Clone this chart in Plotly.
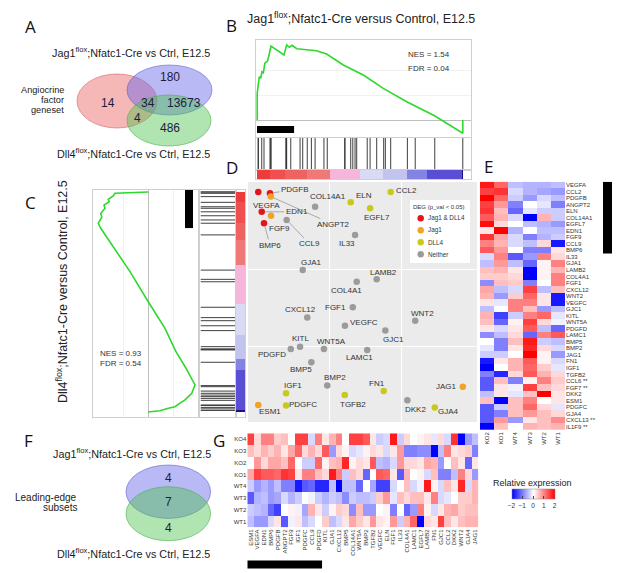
import plotly.graph_objects as go

W, H = 617, 573
FONT = "Liberation Sans, Arial, sans-serif"
LETTER_FONT = "Open Sans, Liberation Sans, sans-serif"

# ------------------------------------------------------------------ data
venn_a_labels = ["14", "180", "34", "13673", "4", "486"]
venn_f_labels = ["4", "7", "4"]

# genes of panel D / G (ordered by Jag1 rank)
genes = ["ESM1", "VEGFA", "EDN1", "BMP6", "PDGFB", "ANGPT2", "FGF9", "IGF1", "PDGFC", "CCL9",
         "PDGFD", "KITL", "GJA1", "CXCL12", "BMP5", "COL14A1", "WNT5A", "BMP2", "TGFB2", "VEGFC",
         "ELN", "FGF1", "IL33", "COL4A1", "LAMC1", "EGFL7", "LAMB2", "FN1", "GJC1", "CCL2",
         "DKK2", "WNT2", "GJA4", "JAG1"]
jag1_rank = [0.6, 0.6, 2.3, 3.4, 6.3, 6.7, 6.8, 14.1, 14.1, 14.4,
             16.4, 20.9, 22.2, 24.4, 26.4, 28.2, 32.5, 34.1, 42.6, 42.7,
             45.5, 46.5, 47.6, 48.4, 53.5, 54.9, 58.1, 61.5, 62.3, 64.9,
             73.0, 76.8, 86.3, 99.9]
dll4_rank = [96.8, 0.0, 9.0, 14.2, 0.6, 2.1, 10.8, 91.5, 97.1, 12.7,
             71.4, 70.3, 35.5, 57.1, 77.4, 6.7, 71.4, 88.0, 92.3, 60.8,
             4.7, 52.4, 19.5, 40.8, 71.8, 7.4, 39.7, 90.5, 63.0, 0.0,
             94.7, 58.5, 98.0, 88.5]
deg_class = ["Jag1", "Jag1 & DLL4", "Jag1 & DLL4", "Jag1 & DLL4", "Jag1 & DLL4", "Jag1", "Jag1", "DLL4", "DLL4", "Neither",
             "Neither", "Neither", "Neither", "Neither", "Neither", "Neither", "Neither", "Neither", "DLL4", "Neither",
             "DLL4", "Neither", "Neither", "Neither", "Neither", "DLL4", "Neither", "DLL4", "Neither", "DLL4",
             "Neither", "Neither", "DLL4", "Jag1"]
dll4_extra_rank = [93.0, 93.8, 98.6, 99.3]   # CCL6, FGF7, CXCL13, IL1F9

# running enrichment score, panel B (Jag1)
es_jag1_rank = [0.1, 0.1, 1.1, 1.8, 2.4, 3.1, 3.8, 4.7, 5.2, 6.8, 13.1, 14.4, 15.7, 17.0, 19.3,
                21.7, 28.9, 33.8, 41.9, 51.6, 61.3, 72.7, 85.6, 86.4, 99.9, 99.9]
es_jag1_score = [0.0, 0.214, 0.346, 0.334, 0.386, 0.378, 0.454, 0.466, 0.474, 0.592, 0.520, 0.600, 0.582, 0.598, 0.570,
                 0.566, 0.554, 0.528, 0.440, 0.360, 0.253, 0.146, 0.040, 0.032, -0.106, 0.0]
# running enrichment score, panel C (Dll4)
es_dll4_rank = [0.0, 0.1, 0.6, 1.8, 3.3, 4.4, 5.9, 7.4, 9.7, 11.5, 14.2, 16.5, 24.9, 36.2, 49.9,
                62.0, 71.0, 72.6, 80.1, 87.7, 91.5, 93.3, 94.5, 96.0, 97.6, 98.3, 99.4, 100.0]
es_dll4_score = [0.0, 0.064, 0.264, 0.278, 0.318, 0.310, 0.352, 0.344, 0.378, 0.370, 0.398, 0.378, 0.278, 0.144, -0.002,
                 -0.136, -0.210, -0.224, -0.304, -0.376, -0.350, -0.322, -0.296, -0.256, -0.216, -0.162, -0.096, 0.0]
le_jag1 = 18.0
le_dll4 = 16.4
nes_jag1, fdr_jag1 = "1.54", "0.04"
nes_dll4, fdr_dll4 = "0.93", "0.54"

band_colors = ["#ee3c3c", "#f04f4f", "#ef6262", "#f17878", "#f6b6da", "#dadaf5", "#c3c3ef", "#8383e6", "#5a4ed4", "#1e1280"]
band_edges_jag1 = [0, 6.3, 13.6, 24.3, 35.4, 50, 61, 72.8, 82.5, 99.3, 100]
band_edges_dll4 = [0, 4.5, 14, 22, 33, 51, 65, 76, 81, 99.3, 100]

# panel E heatmap (Dll4 order)
e_genes = ["VEGFA", "CCL2", "PDGFB", "ANGPT2", "ELN", "COL14A1", "EGFL7", "EDN1", "FGF9", "CCL9", "BMP6",
           "IL33", "GJA1", "LAMB2", "COL4A1", "FGF1", "CXCL12", "WNT2", "VEGFC", "GJC1", "KITL", "WNT5A",
           "PDGFD", "LAMC1", "BMP5", "BMP2", "JAG1", "FN1", "IGF1", "TGFB2", "CCL6 **", "FGF7 **", "DKK2",
           "ESM1", "PDGFC", "GJA4", "CXCL13 **", "IL1F9 **"]
e_samples = ["KO2", "KO1", "WT4", "WT3", "WT2", "WT1"]
e_values = [
    [1.8, 1.2, -0.5, -0.6, -0.6, -0.5], [1.5, 1.6, -0.3, -0.6, -0.7, -0.8], [2.0, 1.2, -0.4, -0.8, -0.3, -0.5],
    [1.5, 0.8, -1.0, 0.0, -0.2, -1.0], [1.6, 0.5, -1.2, -0.2, -0.4, -0.4], [1.3, 0.6, -0.3, -2.0, 0.6, -0.4],
    [1.9, 0.3, 0.0, -0.5, -0.6, -0.8], [0.2, 2.0, -0.6, 0.0, -0.5, -0.5], [1.6, 0.7, -0.3, -1.0, -0.6, -0.4],
    [1.0, 0.6, -0.3, -0.5, 0.3, -1.8], [1.3, 0.8, 0.0, -1.0, -1.0, 0.2], [-0.3, 1.0, -1.3, -0.8, 1.0, 0.3],
    [-0.5, 0.8, -0.5, -1.2, 0.1, 1.0], [0.5, 0.6, 0.2, -2.0, 0.1, 0.6], [0.4, 0.4, 0.3, -2.0, 0.1, 1.0],
    [-0.9, 0.5, 0.4, -1.0, 0.0, 1.0], [0.7, -0.5, -0.3, 1.5, -0.5, 0.5], [0.6, -0.8, 0.4, 1.2, 0.2, -1.8],
    [0.2, -0.2, 1.0, 1.0, 0.2, -1.8], [-0.5, 0.0, 1.0, 0.5, -0.8, -0.5], [0.6, -1.5, -0.4, 1.0, 1.2, -0.2],
    [0.5, -1.2, 0.1, 1.5, 0.3, -0.1], [0.2, -0.3, 0.2, 1.3, -0.5, -1.2], [-0.9, -0.5, 0.3, -1.2, 1.0, 1.3],
    [0.0, -1.0, 0.5, 1.8, -0.4, -0.5], [-0.2, -1.0, 0.2, 1.7, 0.3, -0.3], [-0.4, -0.4, 0.0, 2.0, 0.1, -0.8],
    [-1.8, 0.2, 0.6, 1.3, 0.1, -0.3], [-2.0, 0.0, 0.6, 1.2, 0.4, -0.2], [-1.0, -1.7, 0.3, 1.3, 0.6, 0.3],
    [-1.3, 0.5, -1.0, 0.1, 1.0, 0.4], [-1.3, 0.2, -0.1, 1.5, 0.5, 0.3], [-0.5, 0.2, -0.2, 0.5, 2.0, 0.2],
    [0.5, -2.0, 0.5, 1.0, 0.0, 0.2], [-1.3, -0.4, 0.5, 1.2, 0.3, -0.2], [-1.3, -1.0, 0.5, 0.8, 0.5, 0.3],
    [-1.3, 0.8, -0.8, 0.2, 0.5, 0.9], [-2.0, 0.5, 0.0, 0.6, 0.5, 0.6]]

# panel G heatmap (Jag1 order)
g_samples = ["KO4", "KO3", "KO2", "KO1", "WT4", "WT3", "WT2", "WT1"]
g_values = [
    [1.5, 0.3, 1.0, 1.0, 0.4, 0.5, 0.0, 1.5, 1.5, -0.3, 1.0, 0.2, 0.6, 1.0, 0.0, 1.5, 1.5, 1.3, 0.2, -0.4,
     -0.3, 1.8, -0.4, 0.3, 0.0, 0.1, 0.2, -0.2, 0.3, -0.3, 1.6, -2.0, -0.8, -0.5],
    [0.5, 0.3, 0.6, 0.4, 0.6, 0.2, 0.7, 1.2, 0.3, 0.6, 0.3, 1.3, -0.8, 0.3, 0.1, -0.3, -0.2, 0.1, 0.3, 0.2,
     -0.3, 0.2, 0.8, -1.0, -1.0, -0.9, -0.9, -2.0, -0.5, 1.0, 0.2, 0.3, 0.4, -1.0],
    [0.0, 0.8, 0.3, 0.7, 0.7, 0.5, 1.2, 0.0, -0.4, -0.4, 1.2, 0.1, 0.5, 0.6, 1.7, 0.1, 0.3, 0.2, 1.3, -0.5,
     -0.6, -0.3, 0.8, 0.3, 0.3, 0.2, 0.7, 0.6, -0.8, 0.0, 0.5, 0.2, -1.2, 0.2],
    [0.7, 1.5, 1.3, 1.3, 1.2, 1.6, 1.5, 0.2, 1.0, 1.0, 0.5, 0.3, 1.8, 1.0, -0.4, 0.5, 0.3, -1.2, 0.0, 1.3,
     1.2, 0.2, -1.3, 0.6, 0.0, 0.1, -0.3, 0.5, -1.0, -1.0, -0.5, 1.0, 0.3, -0.8],
    [-0.4, -0.8, -0.6, -0.8, -0.5, -1.0, -1.0, -1.8, -1.3, -1.2, -1.7, -1.7, -0.5, -2.0, -0.5, -0.5, -1.2, 0.0, -0.7, -1.5,
     -1.5, -0.3, 0.0, 0.5, -0.3, -0.1, 1.8, 0.1, -0.3, 0.5, 0.2, 1.7, -0.3, 0.6],
    [-1.3, -0.6, -0.5, -0.8, -0.7, -0.3, -0.6, -0.4, 0.0, -0.1, -0.4, -0.6, -0.4, -0.5, -0.9, -0.4, -0.5, -0.5, -0.4, 0.4,
     0.8, -0.2, 0.5, 0.3, 0.5, 0.5, 0.2, 1.0, -0.3, -0.2, 0.0, 0.4, 0.4, 0.6],
    [-0.4, -0.5, -0.6, -1.2, -1.5, 0.0, 0.1, -0.1, -0.7, 0.6, 0.2, -0.4, 0.1, 0.4, 0.3, -0.9, 0.5, -0.8, -0.8, 0.0,
     0.1, -1.0, 0.0, -1.2, -0.8, 1.0, 0.1, -0.3, 0.2, 0.6, 0.7, 0.4, 0.5, 0.5],
    [-0.5, -0.8, -0.8, -0.3, 0.2, -1.3, -0.1, 0.2, -0.5, -0.3, 0.0, 0.4, -0.5, -0.3, 0.2, 0.7, 0.4, 0.2, 0.8, 0.2,
     0.1, 0.8, -0.4, 0.6, 1.2, -2.0, 0.3, 0.2, 1.5, 0.5, 0.2, 0.5, 0.6, 0.6]]

deg_order = ["Jag1 & DLL4", "Jag1", "DLL4", "Neither"]
deg_colors = {"Jag1 & DLL4": "#e3141b", "Jag1": "#f2a227", "DLL4": "#c8c81e", "Neither": "#9b9b9b"}

# label offsets in pixels (dx, dy, connector)
label_offsets = {
    "VEGFA": (8, 13, False), "PDGFB": (25, -4, True), "ANGPT2": (63, 28, True), "EDN1": (35, 0, True),
    "FGF9": (8, 13, False), "BMP6": (6, 22, True), "CCL9": (23, 24, True), "COL14A1": (13, -10, False),
    "ELN": (13, -7, False), "EGFL7": (7, 9, False), "CCL2": (16, -2, False), "IL33": (-8, 9, False),
    "GJA1": (9, -8, False), "LAMB2": (7, -7, False), "COL4A1": (-10, 9, False), "FGF1": (-17, 0, False),
    "CXCL12": (-7, -8, False), "WNT2": (7, -7, False), "VEGFC": (19, -3, False), "GJC1": (8, 9, False),
    "KITL": (0, -8, False), "PDGFD": (-19, 5, False), "WNT5A": (8, -8, False), "LAMC1": (-8, 8, False),
    "BMP5": (-10, 7, False), "BMP2": (8, -8, False), "JAG1": (-16, 0, False), "FN1": (-7, -8, False),
    "IGF1": (7, -8, False), "TGFB2": (8, 9, False), "DKK2": (8, 9, False), "ESM1": (12, 7, False),
    "PDGFC": (17, -1, False), "GJA4": (14, 4, False)}

# ------------------------------------------------------------------ helpers
def px(x): return x / W
def py(y): return 1 - y / H
def xdom(a, b): return [a / W, b / W]
def ydom(a, b): return [1 - b / H, 1 - a / H]

# rank -> pixel mapping used for B (x) and C (y) ranked lists
def b_rank(p): return (p - 257) / 2.06
def c_rank(p): return (p - 192) / 2.2
def b_es(p): return (120 - p) / 125
def c_es(p): return (148 - p) / 125

band_cs = [[i / (len(band_colors) - 1), c] for i, c in enumerate(band_colors)]
heat_cs = [[0, "#0000ff"], [0.5, "#ffffff"], [1, "#ff0000"]]

fig = go.Figure()

# ---- B: enrichment plot
fig.add_trace(go.Scatter(x=es_jag1_rank, y=es_jag1_score, mode="lines",
                         line=dict(color="#2ed82e", width=1.6), xaxis="x", yaxis="y", hoverinfo="skip"))
rx, ry = [], []
for r in jag1_rank:
    rx += [r, r, None]
    ry += [0, 1, None]
fig.add_trace(go.Scatter(x=rx, y=ry, mode="lines", line=dict(color="#2a2a2a", width=0.9),
                         xaxis="x2", yaxis="y2", hoverinfo="skip"))
fig.add_trace(go.Heatmap(z=[list(range(len(band_colors)))], x=band_edges_jag1, y=[0, 1],
                         colorscale=band_cs, zmin=0, zmax=len(band_colors) - 1, showscale=False,
                         xaxis="x3", yaxis="y3", hoverinfo="skip"))

# ---- C: enrichment plot (rotated)
fig.add_trace(go.Scatter(x=es_dll4_score, y=es_dll4_rank, mode="lines",
                         line=dict(color="#2ed82e", width=1.6), xaxis="x4", yaxis="y4", hoverinfo="skip"))
cx, cy = [], []
for r in dll4_rank + dll4_extra_rank:
    cx += [0, 1, None]
    cy += [r, r, None]
fig.add_trace(go.Scatter(x=cx, y=cy, mode="lines", line=dict(color="#2a2a2a", width=0.9),
                         xaxis="x5", yaxis="y5", hoverinfo="skip"))
fig.add_trace(go.Heatmap(z=[[i] for i in range(len(band_colors))], x=[0, 1], y=band_edges_dll4,
                         colorscale=band_cs, zmin=0, zmax=len(band_colors) - 1, showscale=False,
                         xaxis="x6", yaxis="y6", hoverinfo="skip"))

# ---- D: scatter
for cls in deg_order:
    idx = [i for i, c in enumerate(deg_class) if c == cls]
    fig.add_trace(go.Scatter(x=[jag1_rank[i] for i in idx], y=[dll4_rank[i] for i in idx], mode="markers",
                             marker=dict(color=deg_colors[cls], size=6.5), name=cls, showlegend=False,
                             xaxis="x7", yaxis="y7", hoverinfo="skip"))

# ---- E heatmap
fig.add_trace(go.Heatmap(z=e_values, x=e_samples, y=e_genes, colorscale=heat_cs, zmin=-2, zmax=2,
                         showscale=False, xaxis="x8", yaxis="y8", hoverinfo="skip"))

# ---- G heatmap
fig.add_trace(go.Heatmap(z=g_values, x=genes, y=g_samples, colorscale=heat_cs, zmin=-2, zmax=2,
                         xaxis="x9", yaxis="y9", hoverinfo="skip",
                         colorbar=dict(orientation="h", x=px(533), xanchor="center", y=py(489), yanchor="top",
                                       len=43, lenmode="pixels", thickness=10, thicknessmode="pixels",
                                       xpad=0, ypad=0, outlinewidth=0.5, outlinecolor="#888",
                                       tickvals=[-2, -1, 0, 1, 2], ticks="inside", ticklen=3, tickcolor="#444",
                                       tickfont=dict(family=FONT, size=6.5, color="#333"))))

# ------------------------------------------------------------------ axes
blank = dict(showticklabels=False, showgrid=False, zeroline=False, ticks="")
box = dict(showline=True, mirror=True, linecolor="#cfcfcf", linewidth=1)
b_xrange = [b_rank(256), b_rank(471)]
c_yrange = [c_rank(417), c_rank(190)]
tick6 = dict(family=FONT, size=6, color="#333")

layout_axes = dict(
    xaxis=dict(domain=xdom(256, 471), range=b_xrange, anchor="y", **blank, **box),
    yaxis=dict(domain=ydom(40, 137), range=[b_es(137), b_es(40)], anchor="x",
               showticklabels=False, ticks="", showgrid=True, gridcolor="#f1f1f1", tickvals=[0.2, 0.4],
               zeroline=True, zerolinecolor="#bdbdbd", zerolinewidth=1, **box),
    xaxis2=dict(domain=xdom(256, 471), range=b_xrange, anchor="y2", **blank, **box),
    yaxis2=dict(domain=ydom(138, 170), range=[0, 1], anchor="x2", **blank, **box),
    xaxis3=dict(domain=xdom(256, 471), range=b_xrange, anchor="y3", **blank, **box),
    yaxis3=dict(domain=ydom(170, 179), range=[0, 1], anchor="x3", **blank, **box),
    xaxis4=dict(domain=xdom(93, 199), range=[c_es(93), c_es(199)], anchor="y4",
                showticklabels=False, ticks="", showgrid=True, gridcolor="#f1f1f1", tickvals=[0.2, -0.2],
                zeroline=True, zerolinecolor="#bdbdbd", zerolinewidth=1, **box),
    yaxis4=dict(domain=ydom(190, 417), range=c_yrange, anchor="x4", **blank, **box),
    xaxis5=dict(domain=xdom(199, 236), range=[-0.05, 1.02], anchor="y5", **blank, **box),
    yaxis5=dict(domain=ydom(190, 417), range=c_yrange, anchor="x5", **blank, **box),
    xaxis6=dict(domain=xdom(236, 245), range=[0, 1], anchor="y6", **blank, **box),
    yaxis6=dict(domain=ydom(190, 417), range=c_yrange, anchor="x6", **blank, **box),
    xaxis7=dict(domain=xdom(248, 477), range=[b_rank(248), b_rank(477)], anchor="y7",
                showticklabels=False, ticks="", showgrid=True, gridcolor="#ffffff", gridwidth=1,
                tickvals=[35, 70], zeroline=False),
    yaxis7=dict(domain=ydom(182, 422), range=[c_rank(422), c_rank(182)], anchor="x7",
                showticklabels=False, ticks="", showgrid=True, gridcolor="#ffffff", gridwidth=1,
                tickvals=[35, 70], zeroline=False),
    xaxis8=dict(domain=xdom(480, 565), anchor="y8", tickangle=-90, ticks="", showgrid=False, zeroline=False,
                tickmode="array", tickvals=e_samples, ticktext=e_samples, tickfont=tick6),
    yaxis8=dict(domain=ydom(181.7, 430), anchor="x8", side="right", autorange="reversed", ticks="",
                showgrid=False, zeroline=False, tickmode="array", tickvals=e_genes, ticktext=e_genes,
                tickfont=tick6),
    xaxis9=dict(domain=xdom(247.3, 478.3), anchor="y9", tickangle=-90, ticks="", showgrid=False,
                zeroline=False, tickmode="array", tickvals=genes, ticktext=genes, tickfont=tick6),
    yaxis9=dict(domain=ydom(433.3, 527.3), anchor="x9", autorange="reversed", ticks="", showgrid=False,
                zeroline=False, tickmode="array", tickvals=g_samples, ticktext=g_samples, tickfont=tick6),
)

# ------------------------------------------------------------------ shapes
shapes = []
# D background
shapes.append(dict(type="rect", xref="x7 domain", yref="y7 domain", x0=0, x1=1, y0=0, y1=1,
                   fillcolor="#ebebeb", line=dict(width=0), layer="below"))
# leading-edge bars
shapes.append(dict(type="rect", xref="x", yref="y", x0=0, x1=le_jag1, y0=b_es(126), y1=b_es(133),
                   fillcolor="black", line=dict(width=0)))
shapes.append(dict(type="rect", xref="x4", yref="y4", x0=c_es(185), x1=c_es(193), y0=c_rank(190), y1=le_dll4,
                   fillcolor="black", line=dict(width=0)))
n_le_dll4 = sum(1 for r in dll4_rank if r <= le_dll4)
n_le_jag1 = sum(1 for r in jag1_rank if r <= le_jag1)
shapes.append(dict(type="rect", xref="paper", yref="y8", x0=px(603), x1=px(612), y0=-0.5, y1=n_le_dll4 - 0.5,
                   fillcolor="black", line=dict(width=0)))
shapes.append(dict(type="rect", xref="x9", yref="paper", x0=-0.5, x1=n_le_jag1 - 0.5, y0=py(568.5), y1=py(560.5),
                   fillcolor="black", line=dict(width=0)))


def ellipse(cx, cy, rx, ry, fill, edge):
    return dict(type="circle", xref="paper", yref="paper", x0=px(cx - rx), x1=px(cx + rx),
                y0=py(cy + ry), y1=py(cy - ry), fillcolor=fill, line=dict(color=edge, width=0.8))


RED = ("rgba(236,96,96,0.45)", "rgba(210,90,90,0.7)")
BLUE = ("rgba(100,100,235,0.45)", "rgba(90,90,200,0.7)")
GREEN = ("rgba(80,195,80,0.45)", "rgba(70,170,70,0.7)")
shapes.append(ellipse(117, 101, 40, 27, *RED))
shapes.append(ellipse(169.5, 90, 42.5, 25, *BLUE))
shapes.append(ellipse(169, 120.5, 42, 25.5, *GREEN))
shapes.append(ellipse(168.3, 491.7, 42.3, 26.7, *BLUE))
shapes.append(ellipse(168.3, 513.7, 42.3, 27, *GREEN))

# D legend box and keys
shapes.append(dict(type="rect", xref="paper", yref="paper", x0=px(410), x1=px(470), y0=py(263), y1=py(200),
                   fillcolor="white", line=dict(width=0)))
legend_y = [218.3, 230.3, 242.3, 254.3]
for cls, ly in zip(deg_order, legend_y):
    shapes.append(dict(type="circle", xref="paper", yref="paper", xsizemode="pixel", ysizemode="pixel",
                       xanchor=px(420.7), yanchor=py(ly), x0=-3.2, x1=3.2, y0=-3.2, y1=3.2,
                       fillcolor=deg_colors[cls], line=dict(width=0)))

# ------------------------------------------------------------------ annotations
ann = []


def text(x, y, s, size, anchor="center", color="#222", family=FONT, angle=0):
    ann.append(dict(x=px(x), y=py(y), xref="paper", yref="paper", text=s, showarrow=False,
                    xanchor=anchor, yanchor="middle", textangle=angle,
                    font=dict(family=family, size=size, color=color)))


for letter, (lx, ly) in {"A": (30, 27), "B": (231, 25), "C": (30, 203), "D": (232, 167),
                         "E": (488, 166), "F": (28, 440), "G": (219, 440)}.items():
    text(lx, ly, letter, 17, family=LETTER_FONT, color="#111")

JAG = "Jag1<sup>flox</sup>;Nfatc1-Cre vs Ctrl, E12.5"
DLL = "Dll4<sup>flox</sup>;Nfatc1-Cre vs Ctrl, E12.5"
text(131, 52, JAG, 10.8)
text(133, 153, DLL, 10.8)
text(66, 90.4, "Angiocrine", 9.2, anchor="right")
text(66, 100, "factor", 9.2, anchor="right")
text(66, 109.6, "geneset", 9.2, anchor="right")
for s, (vx, vy) in zip(venn_a_labels, [(108, 103), (170, 77), (148, 103), (184, 103), (137, 118), (170, 128)]):
    text(vx, vy, s, 12, color="#1c1c3c")

text(131.7, 452.7, JAG, 10.8)
text(133.3, 553.3, DLL, 10.8)
text(79.5, 497.5, "Leading-edge", 10, anchor="right")
text(79.5, 507.5, "subsets", 10, anchor="right")
for s, vy in zip(venn_f_labels, [478.3, 501.7, 528.3]):
    text(168.3, vy, s, 12, color="#1c1c3c")

text(245, 18, "Jag1<sup>flox</sup>;Nfatc1-Cre versus Control, E12.5", 12.5, anchor="left")
text(62, 292, "Dll4<sup>flox</sup>;Nfatc1-Cre versus Control, E12.5", 12.5, angle=-90)
text(406, 55, "NES = " + nes_jag1, 8, anchor="left", color="#333")
text(406, 68.5, "FDR = " + fdr_jag1, 8, anchor="left", color="#333")
text(98, 353, "NES = " + nes_dll4, 8, anchor="left", color="#333")
text(98, 363.5, "FDR = " + fdr_dll4, 8, anchor="left", color="#333")

# D legend text
text(439, 206.7, "DEG (p_val &lt; 0.05)", 6, color="#333")
for cls, ly in zip(deg_order, legend_y):
    text(426, ly, cls, 6.3, anchor="left", color="#333")

text(532, 482.5, "Relative expression", 9, color="#222")

# D gene labels
for g, xr, yr in zip(genes, jag1_rank, dll4_rank):
    dx, dy, conn = label_offsets[g]
    a = dict(x=xr, y=yr, xref="x7", yref="y7", text=g, font=dict(family=FONT, size=8, color="#333"))
    if conn:
        a.update(showarrow=True, ax=dx, ay=dy, arrowhead=0, arrowwidth=0.7, arrowcolor="#8c8c8c",
                 standoff=3.5, startstandoff=0)
    else:
        a.update(showarrow=False, xshift=dx, yshift=-dy)
    ann.append(a)

fig.update_layout(
    width=W, height=H, autosize=False, template="none",
    margin=dict(l=0, r=0, t=0, b=0, pad=0),
    paper_bgcolor="white", plot_bgcolor="rgba(0,0,0,0)",
    showlegend=False, font=dict(family=FONT, size=8, color="#333"),
    shapes=shapes, annotations=ann, **layout_axes)

fig.write_html("out.html", config={"displayModeBar": False, "staticPlot": True},
               post_script="document.body.style.margin='0px';")
